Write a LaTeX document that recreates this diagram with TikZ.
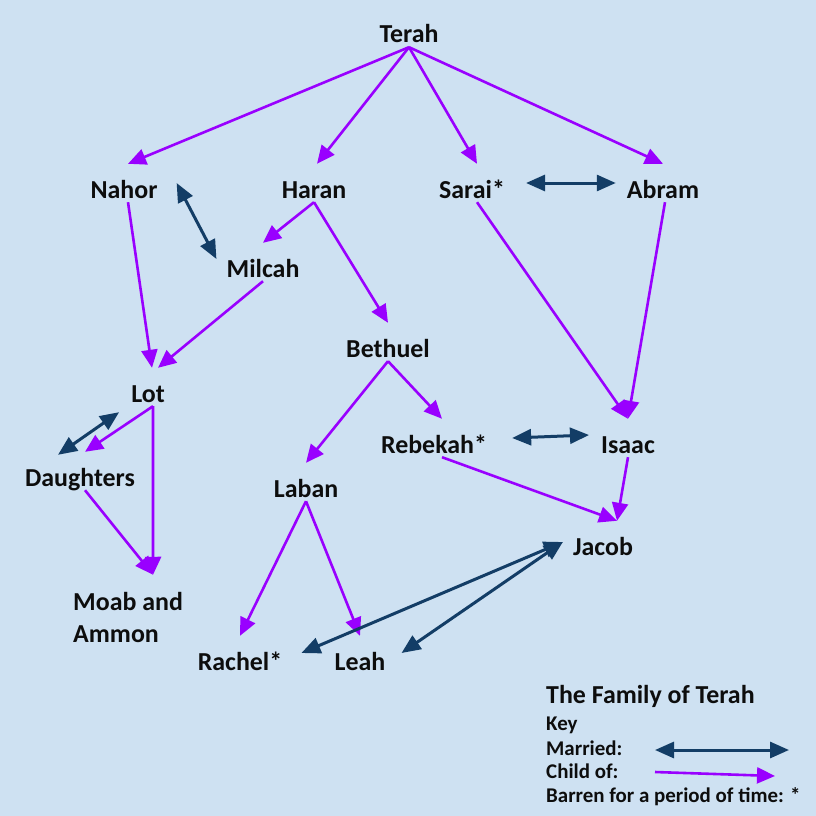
\documentclass[tikz,border=0pt]{standalone}
\usepackage{fontspec}
\setmainfont{Carlito}
\usepackage{tikz}
\usetikzlibrary{arrows.meta}
\definecolor{fondo}{RGB}{206,225,242}
\definecolor{morado}{RGB}{153,0,255}
\definecolor{azul}{RGB}{19,61,102}
\definecolor{tinta}{RGB}{13,13,13}

\begin{document}
\begin{tikzpicture}[
    x=1bp, y=-1bp,
    font=\bfseries\fontsize{26}{32}\selectfont,
    person/.style={text=tinta, anchor=base, inner sep=0pt,
      text height=34bp, text depth=4bp},
    keytext/.style={text=tinta, anchor=base west, inner sep=0pt,
      font=\bfseries\fontsize{21}{24}\selectfont},
    childof/.style={draw=morado, line width=2.6bp,
      -{Triangle[length=18bp,width=16bp]}},
    married/.style={draw=azul, line width=3bp,
      {Triangle[length=19bp,width=16bp]}-{Triangle[length=19bp,width=16bp]}}
  ]
    \fill[fondo] (0,0) rectangle (816,816);

    % people
    \node[person] (terah) at (409,43) {Terah};
    \node[person] (nahor) at (124,198) {Nahor};
    \node[person] (haran) at (314,198) {Haran};
    \node[person] (sarai) at (472,198) {Sarai*};
    \node[person] (abram) at (663,198) {Abram};
    \node[person] (milcah) at (263,277) {Milcah};
    \node[person] (bethuel) at (388,357) {Bethuel};
    \node[person] (lot) at (148,402) {Lot};
    \node[person] (rebekah) at (434,453) {Rebekah*};
    \node[person] (isaac) at (628,453) {Isaac};
    \node[person] (daughters) at (80,486) {Daughters};
    \node[person] (laban) at (306,497) {Laban};
    \node[person] (jacob) at (603,555) {Jacob};
    \node[text=tinta, inner sep=0pt, anchor=base west, align=left] (moab) at (73,642) {Moab and\\Ammon};
    \node[person] (rachel) at (240,670) {Rachel*};
    \node[person] (leah) at (360,670) {Leah};

    % child of
    \draw[childof] (terah.south) -- ([xshift=4bp]nahor.north);
    \draw[childof] (terah.south) -- ([xshift=3bp]haran.north);
    \draw[childof] (terah.south) -- ([xshift=5bp]sarai.north);
    \draw[childof] (terah.south) -- (abram.north);
    \draw[childof] ([xshift=4bp]nahor.south) -- ([xshift=4bp]lot.north);
    \draw[childof] (milcah.south) -- ([xshift=10bp]lot.north);
    \draw[childof] (haran.south) -- (milcah.north);
    \draw[childof] (haran.south) -- (bethuel.north);
    \draw[childof] ([xshift=5bp]sarai.south) -- (isaac.north);
    \draw[childof] ([xshift=2bp]abram.south) -- (isaac.north);
    \draw[childof] (bethuel.south) -- ([xshift=8bp]rebekah.north);
    \draw[childof] (bethuel.south) -- (laban.north);
    \draw[childof] ([xshift=8bp]rebekah.south) -- ([xshift=14bp]jacob.north);
    \draw[childof] (isaac.south) -- ([xshift=14bp]jacob.north);
    \draw[childof] (laban.south) -- (rachel.north);
    \draw[childof] (laban.south) -- (leah.north);
    \draw[childof] ([xshift=5bp]lot.south) -- ([xshift=5bp]daughters.north);
    \draw[childof] ([xshift=5bp]lot.south) -- ([xshift=25bp,yshift=17bp]moab.north);
    \draw[childof] ([xshift=5bp]daughters.south) -- ([xshift=25bp,yshift=17bp]moab.north);

    % married
    \draw[married] ([xshift=21bp]sarai.east) -- ([xshift=-11bp]abram.west);
    \draw[married] ([xshift=19bp]nahor.east) -- ([xshift=-10bp,yshift=3bp]milcah.west);
    \draw[married] ([xshift=-12bp,yshift=-6bp]lot.south west) -- ([xshift=-22bp,yshift=-3bp]daughters.north);
    \draw[married] ([xshift=25bp]rebekah.east) -- ([xshift=-12bp,yshift=3bp]isaac.west);
    \draw[married] ([xshift=-10bp,yshift=-2bp]jacob.west) -- ([xshift=19bp,yshift=2bp]rachel.east);
    \draw[married] ([xshift=-10bp,yshift=-2bp]jacob.west) -- ([xshift=16bp,yshift=2bp]leah.east);

    % key
    \node[keytext, font=\bfseries\fontsize{26}{30}\selectfont] (title) at (546,703) {The Family of Terah};
    \node[keytext] (key) at (546,730) {Key};
    \node[keytext] (keymarried) at (546,755) {Married:};
    \node[keytext] (keychild) at (546,778) {Child of:};
    \node[keytext] (keybarren) at (546,802) {Barren for a period of time: *};
    \coordinate (wedA) at (655,750);
    \coordinate (wedB) at (789,750);
    \coordinate (kidA) at (655,772);
    \coordinate (kidB) at (775,776);
    \draw[married] (wedA) -- (wedB);
    \draw[childof] (kidA) -- (kidB);
  \end{tikzpicture}
\end{document}
